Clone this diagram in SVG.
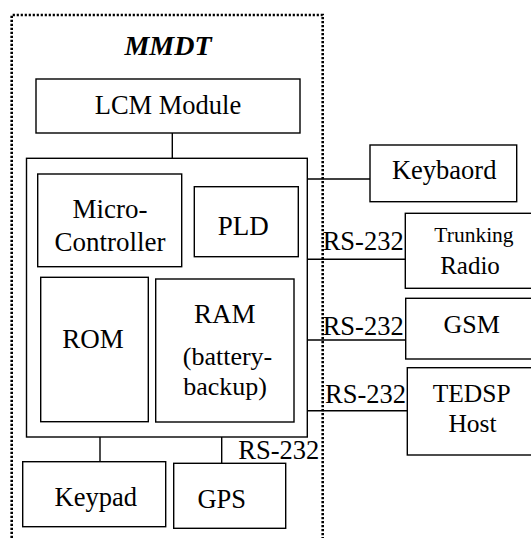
<svg xmlns="http://www.w3.org/2000/svg" width="531" height="538" viewBox="0 0 531 538">
<style>
.box{fill:#fff;stroke:#000;stroke-width:1.4}
.ln{fill:none;stroke:#000;stroke-width:1.4}
.dot{fill:none;stroke:#000;stroke-width:2.6;stroke-dasharray:2.2 1.8}
</style>
<rect width="531" height="538" fill="#fff"/>
<g id="boundary">
<path class="dot" d="M11.7,538 V15 H322.7 V538"/>
<text x="168" y="55" font-family="Liberation Serif, serif" font-size="28" font-weight="bold" font-style="italic" text-anchor="middle">MMDT</text>
</g>
<g id="connectors">
<line class="ln" x1="172.3" y1="133" x2="172.3" y2="158"/>
<line class="ln" x1="100" y1="437" x2="100" y2="462"/>
<line class="ln" x1="221.7" y1="437" x2="221.7" y2="463.5"/>
<line class="ln" x1="307.3" y1="179" x2="370" y2="179"/>
<line class="ln" x1="307.3" y1="259.3" x2="409" y2="259.3"/>
<line class="ln" x1="307.3" y1="340" x2="409" y2="340"/>
<line class="ln" x1="307.3" y1="410.7" x2="407.3" y2="410.7"/>
<text x="322.7" y="250" font-family="Liberation Serif, serif" font-size="26.5">RS-232</text>
<text x="322.7" y="335" font-family="Liberation Serif, serif" font-size="26.5">RS-232</text>
<text x="325" y="402.7" font-family="Liberation Serif, serif" font-size="26.5">RS-232</text>
<text x="238.3" y="459" font-family="Liberation Serif, serif" font-size="26.5">RS-232</text>
</g>
<g id="lcm">
<rect class="box" x="36" y="79" width="264" height="54"/>
<text x="168" y="114.3" font-family="Liberation Serif, serif" font-size="26.5" text-anchor="middle">LCM Module</text>
</g>
<g id="mainboard">
<rect class="box" x="26.5" y="158.3" width="280.8" height="278.7"/>
</g>
<g id="micro">
<rect class="box" x="37.7" y="174" width="144" height="92.7"/>
<text x="110" y="218.3" font-family="Liberation Serif, serif" font-size="27" text-anchor="middle">Micro-</text>
<text x="110" y="250.7" font-family="Liberation Serif, serif" font-size="27" text-anchor="middle">Controller</text>
</g>
<g id="pld">
<rect class="box" x="194.3" y="186.7" width="104" height="70"/>
<text x="243.3" y="235" font-family="Liberation Serif, serif" font-size="27" text-anchor="middle">PLD</text>
</g>
<g id="rom">
<rect class="box" x="40.7" y="277.3" width="107.6" height="144.4"/>
<text x="93" y="348.3" font-family="Liberation Serif, serif" font-size="27" text-anchor="middle">ROM</text>
</g>
<g id="ram">
<rect class="box" x="155.7" y="279" width="138.3" height="143"/>
<text x="224.7" y="323.3" font-family="Liberation Serif, serif" font-size="27" text-anchor="middle">RAM</text>
<text x="227.5" y="365" font-family="Liberation Serif, serif" font-size="26" text-anchor="middle">(battery-</text>
<text x="225" y="395" font-family="Liberation Serif, serif" font-size="26" text-anchor="middle">backup)</text>
</g>
<g id="keypad">
<rect class="box" x="22.7" y="461.7" width="143" height="65"/>
<text x="95.8" y="505.7" font-family="Liberation Serif, serif" font-size="26.5" text-anchor="middle">Keypad</text>
</g>
<g id="gps">
<rect class="box" x="173.7" y="463.3" width="112" height="65"/>
<text x="221.7" y="507.7" font-family="Liberation Serif, serif" font-size="26.5" text-anchor="middle">GPS</text>
</g>
<g id="keyboard">
<rect class="box" x="370" y="145" width="146.7" height="56.7"/>
<text x="444.2" y="179" font-family="Liberation Serif, serif" font-size="26.5" text-anchor="middle">Keybaord</text>
</g>
<g id="trunking">
<rect class="box" x="405.3" y="213.3" width="140" height="75"/>
<text x="474" y="241.7" font-family="Liberation Serif, serif" font-size="21.5" text-anchor="middle">Trunking</text>
<text x="470" y="274" font-family="Liberation Serif, serif" font-size="25" text-anchor="middle">Radio</text>
</g>
<g id="gsm">
<rect class="box" x="405.7" y="298.3" width="140" height="60.7"/>
<text x="471.7" y="332.7" font-family="Liberation Serif, serif" font-size="26" text-anchor="middle">GSM</text>
</g>
<g id="tedsp">
<rect class="box" x="407.3" y="367.7" width="140" height="87.3"/>
<text x="471.7" y="401.7" font-family="Liberation Serif, serif" font-size="25.5" text-anchor="middle">TEDSP</text>
<text x="472.5" y="431.7" font-family="Liberation Serif, serif" font-size="25.5" text-anchor="middle">Host</text>
</g>
</svg>
